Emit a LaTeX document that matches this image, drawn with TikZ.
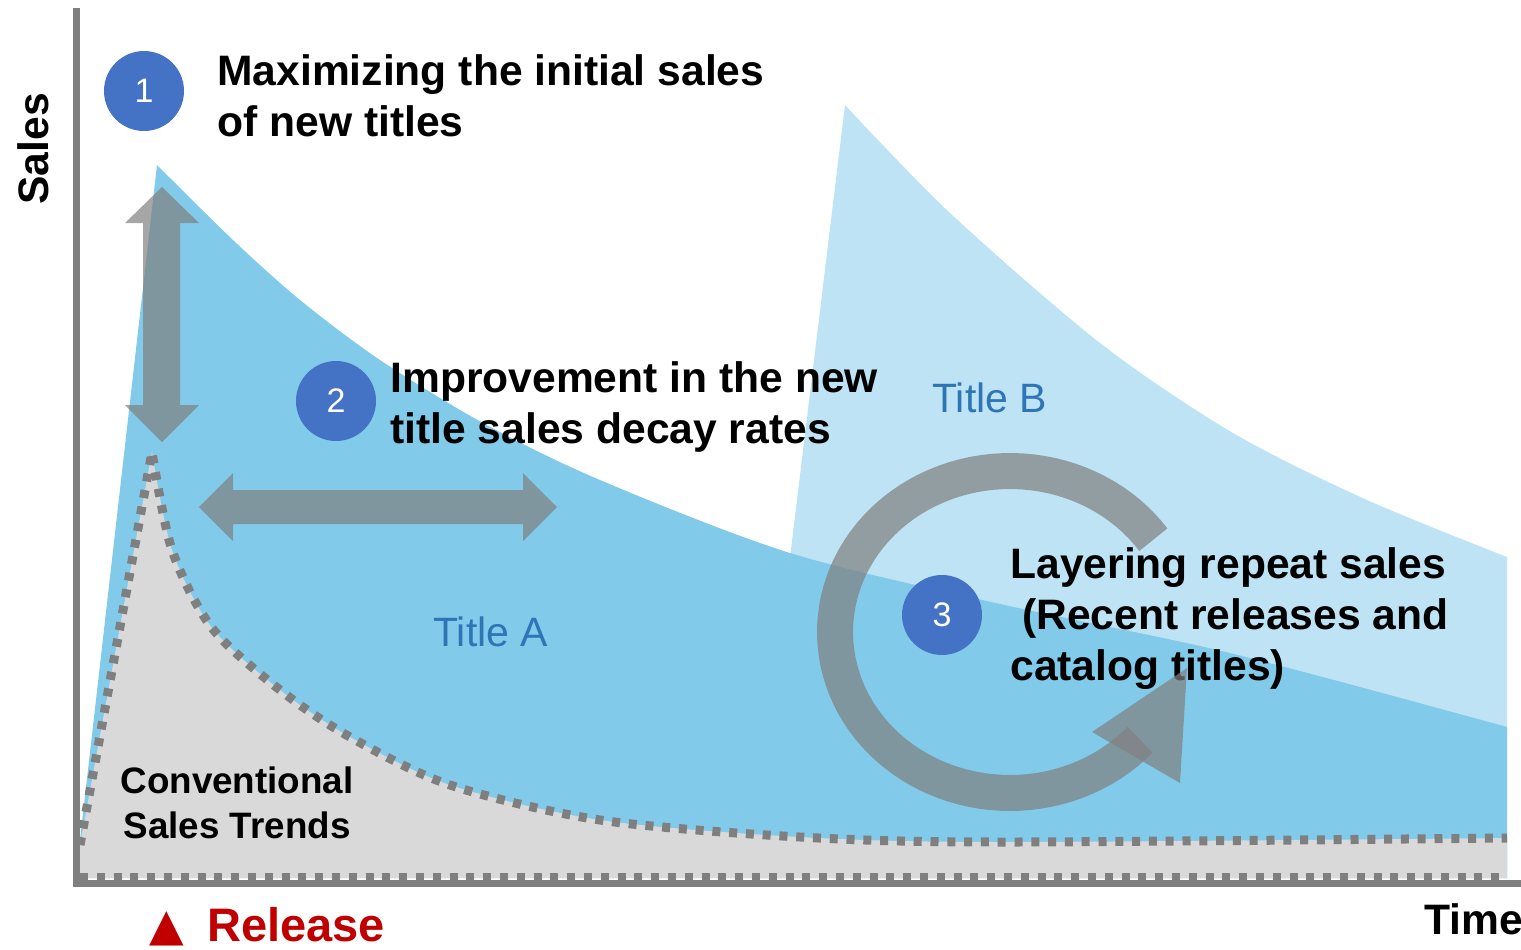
\documentclass[tikz,border=0pt]{standalone}
\usepackage{fontspec}
\setmainfont{Liberation Sans}
\newfontfamily\dejavu{DejaVu Sans}
\definecolor{tbcol}{HTML}{BEE3F4}
\definecolor{tacol}{HTML}{82CAEA}
\definecolor{gfill}{HTML}{D9D9D9}
\definecolor{gline}{HTML}{7F7F7F}
\definecolor{cblue}{HTML}{4472C4}
\definecolor{tblue}{HTML}{2E75B6}
\definecolor{relred}{HTML}{C00000}
\tikzset{
  headtxt/.style={font=\fontsize{21.3}{25}\selectfont\bfseries, inner sep=0pt, anchor=base west},
  convtxt/.style={font=\fontsize{18.4}{22}\selectfont\bfseries, inner sep=0pt, anchor=base},
  titletxt/.style={font=\fontsize{20.5}{24}\selectfont, text=tblue, inner sep=0pt, anchor=base west},
  numcirc/.style={circle, fill=cblue, minimum size=40pt, inner sep=0pt, text=white, font=\fontsize{17}{20}\selectfont},
  dotline/.style={draw=gline, line width=4.5pt, dash pattern=on 4pt off 4.4pt},
  axisline/.style={draw=gline, line width=3.5pt},
  grayarrow/.style={fill=gray, fill opacity=0.7, draw=none},
  ringarrow/.style={draw=gray, draw opacity=0.7, line width=18pt}
}
\begin{document}
\begin{tikzpicture}[x=0.5pt,y=-0.5pt]
\useasboundingbox (0,0) rectangle (1521,949);
% Title B area
\fill[tbcol] (751,878) -- (845,105) -- plot[smooth] coordinates {(845,105) (950,213) (1100,343) (1233,433) (1367,500) (1507,557)} -- (1507,878) -- cycle;
% Title A area
\fill[tacol] (80,878) -- (80,840) -- (157,165) -- plot[smooth] coordinates {(157,165) (233,240) (300,300) (380,360) (483,423) (600,480) (790,553) (1000,604) (1230,653) (1507,727)} -- (1507,878) -- cycle;
% Conventional sales trends area
\fill[gfill] (80,878) -- (80,845) -- (152,452) -- plot[smooth] coordinates {(152,452) (172,550) (212,628) (280,690) (350,737) (450,785) (600,820) (800,837) (1000,842) (1507,838)} -- (1507,878) -- cycle;
\draw[dotline] (80,845) -- (152,452) -- plot[smooth] coordinates {(152,452) (172,550) (212,628) (280,690) (350,737) (450,785) (600,820) (800,837) (1000,842) (1507,838)};
\draw[dotline] (80,877) -- (1507,877);
% axes
\draw[axisline] (76,8) -- (76,886);
\draw[axisline] (73,883) -- (1521,883);
% arrows 1 and 2
\fill[grayarrow] (162,187) -- (199,223) -- (180,223) -- (180,405) -- (199,405) -- (162,442) -- (125,405) -- (143,405) -- (143,223) -- (125,223) -- cycle;
\fill[grayarrow] (199,507) -- (233,473) -- (233,490) -- (523,490) -- (523,473) -- (557,507) -- (523,541) -- (523,524) -- (233,524) -- (233,541) -- cycle;
% number circles
\node[numcirc] (c1) at (144,91) {1};
\node[numcirc] (c2) at (336,401) {2};
\node[numcirc] (c3) at (942,615) {3};
% texts
\node[headtxt] (m1) at (217,85) {Maximizing the initial sales};
\node[headtxt] (m2) at (217,136) {of new titles};
\node[headtxt] (i1) at (390,392) {Improvement in the new};
\node[headtxt] (i2) at (390,443) {title sales decay rates};
\node[headtxt] (l1) at (1010,578) {Layering repeat sales};
\node[headtxt] (l2) at (1010,629) {\ (Recent releases and};
\node[headtxt] (l3) at (1010,680) {catalog titles)};
\node[convtxt] (v1) at (237,793) {Conventional};
\node[convtxt] (v2) at (237,838) {Sales Trends};
\node[titletxt] (tb) at (932,412) {Title B};
\node[titletxt] (ta) at (433,646) {Title A};
\node[headtxt, rotate=90] (sales) at (48,205) {Sales};
\node[headtxt] (time) at (1424,934) {Time};
\node[inner sep=0pt, anchor=base west, text=relred, font=\fontsize{22.5}{27}\selectfont\dejavu] (tri) at (149,940) {▲};
\node[inner sep=0pt, anchor=base west, text=relred, font=\fontsize{23.5}{28}\selectfont\bfseries] (rel) at (207,941) {Release};
% circular arrow 3
\draw[ringarrow] plot[domain=35:318, samples=90, variable=\t] ({1010+175*cos(\t)}, {632-161*sin(\t)});
\fill[grayarrow] (1092,732) -- (1187,668) -- (1180,783) -- cycle;
\end{tikzpicture}
\end{document}
